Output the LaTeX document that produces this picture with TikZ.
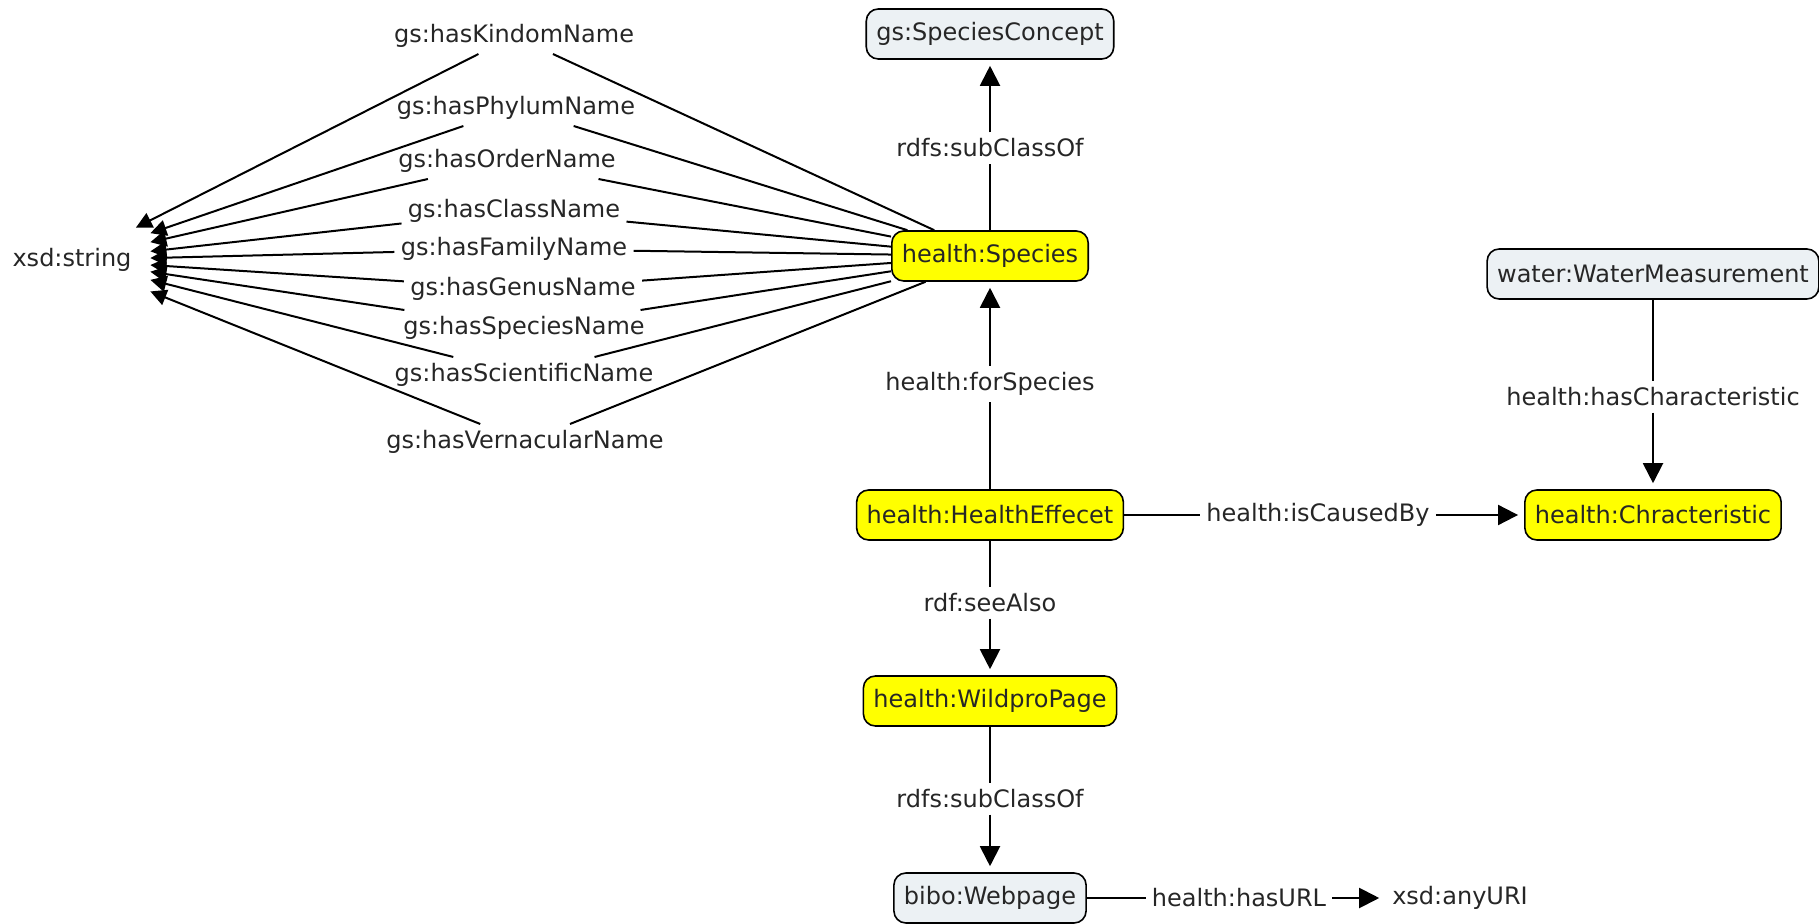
\documentclass[tikz,border=0pt]{standalone}
\usepackage{fontspec}
\setmainfont{DejaVu Sans}
\usetikzlibrary{arrows.meta,positioning,shapes}
\definecolor{conceptgray}{RGB}{236,241,244}
\definecolor{healthyellow}{RGB}{255,255,0}

\begin{document}
\begin{tikzpicture}[x=0.5pt, y=-0.5pt,
	every node/.style={font=\fontsize{12}{14}\selectfont, text=black!85},
	concept/.style={draw, rounded corners=6pt, fill=conceptgray, line width=0.8pt, inner xsep=5pt, minimum height=25pt},
	health/.style={concept, fill=healthyellow},
	rel/.style={inner sep=3pt},
	link/.style={line width=1pt},
	arr/.style={link, -{Triangle[length=10pt,width=10pt]}, shorten >=3pt},
	strarr/.style={link, -{Triangle[length=8pt,width=8pt]}}]
	\useasboundingbox (0,0) rectangle (1819,924);
	
	% Classes
	\node[concept] (concept) at (990,34) {gs:SpeciesConcept};
	\node[health] (species) at (990,256) {health:Species};
	\node[health] (effect) at (990,515) {health:HealthEffecet};
	\node[health] (wildpro) at (990,701) {health:WildproPage};
	\node[concept] (webpage) at (990,898) {bibo:Webpage};
	\node[concept] (water) at (1653,274) {water:WaterMeasurement};
	\node[health] (charac) at (1653,515) {health:Chracteristic};
	\node (anyuri) at (1460,898) {xsd:anyURI};
	\node[minimum width=78pt, minimum height=32pt] (string) at (72,260) {xsd:string};
	
	% Properties
	\node[rel] (sub1) at (990,148) {rdfs:subClassOf};
	\node[rel] (forsp) at (990,384) {health:forSpecies};
	\node[rel] (see) at (990,603) {rdf:seeAlso};
	\node[rel] (sub2) at (990,799) {rdfs:subClassOf};
	\node[rel] (url) at (1239,898) {health:hasURL};
	\node[rel] (caused) at (1318,515) {health:isCausedBy};
	\node[rel] (hasch) at (1653,397) {health:hasCharacteristic};
	
	\draw[link] (species) -- (sub1);
	\draw[arr] (sub1) -- (concept);
	\draw[link] (effect) -- (forsp);
	\draw[arr] (forsp) -- (species);
	\draw[link] (effect) -- (see);
	\draw[arr] (see) -- (wildpro);
	\draw[link] (wildpro) -- (sub2);
	\draw[arr] (sub2) -- (webpage);
	\draw[link] (webpage) -- (url);
	\draw[arr] (url) -- (anyuri);
	\draw[link] (effect) -- (caused);
	\draw[arr] (caused) -- (charac);
	\draw[link] (water) -- (hasch);
	\draw[arr] (hasch) -- (charac);
	
	% Name properties
	\foreach \name/\px/\py [count=\i] in {Kindom/514/36, Phylum/516/108, Order/507/161, Class/514/211, Family/514/249, Genus/523/289, Species/524/328, Scientific/524/375, Vernacular/525/442} {
		\node[rel] (name\i) at (\px,\py) {gs:has\name Name};
		\draw[link] (species) -- (name\i);
		\draw[strarr] (name\i) -- (string);
	}
\end{tikzpicture}
\end{document}
